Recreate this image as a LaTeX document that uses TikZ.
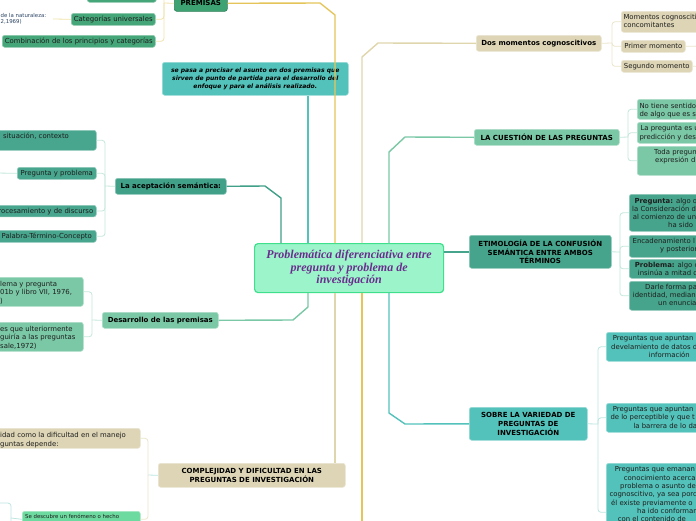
\documentclass[tikz,border=0pt]{standalone}
\usepackage{fontspec}
\setmainfont{DejaVu Sans}
\newfontfamily\titlefont{Liberation Serif}
\definecolor{premG}{HTML}{3DA372}
\definecolor{premD}{HTML}{2E7F57}
\definecolor{catG}{HTML}{45A679}
\definecolor{aceC}{HTML}{40A088}
\definecolor{aceK}{HTML}{47A68D}
\definecolor{desL}{HTML}{7AC8A6}
\definecolor{tealC}{HTML}{53C2BA}
\definecolor{tanF}{HTML}{DDD5B5}
\definecolor{mintC}{HTML}{6DDA9F}
\definecolor{cenF}{HTML}{9CF5CA}
\definecolor{cenD}{HTML}{3FE08C}
\definecolor{purp}{HTML}{6B2D8F}
\definecolor{goldC}{HTML}{E5C55A}
\definecolor{tanL}{HTML}{E0D6AE}
\definecolor{etimC}{HTML}{45A48B}
\definecolor{paleY}{HTML}{F0E3AC}
\definecolor{paleT}{HTML}{ECE5CC}
\definecolor{paleG}{HTML}{C6E8DC}
\definecolor{paleC}{HTML}{BDE6E2}
\definecolor{slate}{HTML}{2F4766}
\definecolor{txtc}{HTML}{1E1E1E}
\newcommand\fsN{\fontsize{6.9}{8.3}\selectfont}
\newcommand\fsB{\fontsize{7}{8.7}\selectfont\bfseries}
\newcommand\fsS{\fontsize{5.4}{6.6}\selectfont}
\newcommand\fsI{\fontsize{6.05}{8.3}\selectfont\bfseries\itshape}
\tikzset{
  bx/.style={rounded corners=2.5pt, inner sep=0pt, anchor=north west, fill=#1, draw=#1!60!white, line width=0.6pt, text=txtc},
  tx/.style={inner sep=0pt, anchor=base west, font=\fsN, text=txtc},
  ml/.style={inner sep=0pt, anchor=north west, font=\fsN, text=txtc, align=left},
  bt/.style={font=\fsB, align=center, text=black},
  mainln/.style={line width=1.4pt, line join=round},
  subln/.style={line width=0.8pt, rounded corners=3pt},
}
\begin{document}
\begin{tikzpicture}[x=1pt,y=-1pt]
\useasboundingbox (0,0) rectangle (696,520);
\clip (0,0) rectangle (696,520);
\fill[white] (0,0) rectangle (696,520);
% column coordinates
\coordinate (c281) at (281,0);
\coordinate (c308) at (308,0);
\coordinate (c335) at (335,0);
\coordinate (c362) at (362,0);
\coordinate (c389) at (389,0);
\coordinate (offb) at (362,530);
% ---------- central ----------
\node[bx=cenF, draw=cenD, line width=1.2pt, rounded corners=3.5pt, minimum width=189pt, minimum height=49pt,
  font=\titlefont\bfseries\itshape\fontsize{12}{12.3}\selectfont, text=purp, align=center] (cen) at (254,243)
  {Problemática diferenciativa entre\\pregunta y problema de\\investigación};
% ---------- left top ----------
\node[bx=premG, draw=premD, minimum width=53pt, minimum height=16pt, bt] (prem) at (174,-5) {PREMISAS};
\node[bx=catG, minimum width=69pt, minimum height=16pt] (topb) at (87,-14) {};
\node[bx=catG, minimum width=84pt, minimum height=12pt, font=\fsN] (cat) at (71,13) {Categorías universales};
\node[bx=catG, minimum width=153pt, minimum height=12pt, font=\fsN] (comb) at (2,35) {Combinación de los principios y categorías};
\node[ml, font=\fsS, text=slate] (nat) at (0.5,13) {de la naturaleza:\\2,1969)};
\coordinate (natj) at (53,19);
\node[bx=tealC, minimum width=186pt, minimum height=33pt, font=\fsI, align=center, text=black] (pasa) at (162,62)
  {se pasa a precisar el asunto en dos premisas que\\sirven de punto de partida para el desarrollo del\\enfoque y para el análisis realizado.};
% ---------- aceptacion ----------
\node[bx=aceC, minimum width=111pt, minimum height=16pt, bt] (ace) at (115,178) {La aceptación semántica:};
\node[bx=aceK, minimum width=156pt, minimum height=20pt] (ctx) at (-60,130) {};
\node[tx] (ctxt) at (3,138.5) {situación, contexto};
\node[bx=aceK, minimum width=79pt, minimum height=12pt, font=\fsN] (pp) at (17,167) {Pregunta y problema};
\coordinate (ppj) at (-5,173);
\node[bx=aceK, minimum width=156pt, minimum height=11.5pt] (proc) at (-60,205) {};
\node[tx, anchor=base east] (proct) at (93.5,213.2) {rocesamiento y de discurso};
\node[bx=aceK, minimum width=99pt, minimum height=12pt, font=\fsN] (pal) at (-3,230) {Palabra-Término-Concepto};
% ---------- desarrollo ----------
\node[bx=desL, minimum width=116pt, minimum height=16pt, bt] (des) at (102,312) {Desarrollo de las premisas};
\node[bx=desL, minimum width=143pt, minimum height=29pt] (dA) at (-60,277) {};
\node[ml, font=\fontsize{6.9}{8.7}\selectfont] (dAt) at (0,280.6) {lema y pregunta\\01b y libro VII, 1976,\\)};
\node[bx=desL, minimum width=143pt, minimum height=29pt] (dB) at (-60,322) {};
\node[ml, font=\fontsize{6.9}{8.5}\selectfont] (dBt) at (0,325.6) {es que ulteriormente\\guiría a las preguntas\\sale,1972)};
% ---------- complejidad ----------
\node[bx=tanF, minimum width=187pt, minimum height=24pt, bt] (com) at (158,463) {COMPLEJIDAD Y DIFICULTAD EN LAS\\PREGUNTAS DE INVESTIGACIÓN};
\node[bx=tanF, minimum width=200pt, minimum height=20pt] (cA) at (-60,428) {};
\node[ml] (cAt) at (0,432.3) {idad como la dificultad en el manejo\\guntas depende:};
\node[bx=mintC, minimum width=118pt, minimum height=16pt] (cB) at (22,511) {};
\node[tx, font=\fsS] (cBt) at (25,518.6) {Se descubre un fenómeno o hecho};
\coordinate (cbj1) at (11,518);
\coordinate (cbj2) at (11,503);
\coordinate (cbj3) at (-5,503);
\coordinate (cbj4) at (11,530);
% ---------- dos momentos ----------
\node[bx=tanF, minimum width=125pt, minimum height=16pt, bt] (dos) at (476,35) {Dos momentos cognoscitivos};
\node[bx=tanF, minimum width=100pt, minimum height=21pt] (M1) at (621,11) {};
\node[ml] (M1t) at (623.3,14) {Momentos cognosciti\\concomitantes};
\node[bx=tanF, minimum width=64pt, minimum height=12pt, font=\fsN] (M2) at (621,40) {Primer momento};
\node[bx=tanF, minimum width=71pt, minimum height=12pt, font=\fsN] (M3) at (621,60) {Segundo momento};
\coordinate (m2j) at (705,46);
\coordinate (m3j) at (705,66);
% ---------- cuestion ----------
\node[bx=desL, minimum width=145pt, minimum height=16pt, bt] (cue) at (474,129) {LA CUESTIÓN DE LAS PREGUNTAS};
\node[bx=desL, minimum width=100pt, minimum height=20pt] (Q1) at (637,99) {};
\node[ml] (Q1t) at (639.3,103) {No tiene sentido\\de algo que es s};
\node[bx=desL, minimum width=100pt, minimum height=21pt] (Q2) at (637,122) {};
\node[ml] (Q2t) at (639.3,125.6) {\hspace*{1pt}La pregunta es u\\predicción y des};
\node[bx=desL, minimum width=100pt, minimum height=29pt] (Q3) at (637,146) {};
\node[ml] (Q3t) at (654,149) {Toda pregun\\\hspace*{1pt}expresión d};
% ---------- etimologia ----------
\node[bx=etimC, minimum width=142pt, minimum height=33pt, bt] (etim) at (469,235) {ETIMOLOGÍA DE LA CONFUSIÓN\\SEMÁNTICA ENTRE AMBOS\\TÉRMINOS};
\node[bx=etimC, minimum width=100pt, minimum height=37pt] (E1) at (629,194) {};
\node[ml, font=\fontsize{6.9}{7.9}\selectfont] (E1t) at (632,198) {\hspace*{2.3pt}\textbf{Pregunta:} algo q\\la Consideración d\\\hspace*{0.7pt}al comienzo de un\\\hspace*{36pt}ha sido};
\node[bx=etimC, minimum width=100pt, minimum height=22pt] (E2) at (629,235) {};
\node[ml] (E2t) at (632.5,237.6) {Encadenamiento l\\\hspace*{27.5pt}y posterior};
\node[bx=etimC, minimum width=100pt, minimum height=19pt] (E3) at (629,259) {};
\node[ml, font=\fontsize{6.9}{8}\selectfont] (E3t) at (634.7,262.3) {\textbf{Problema:} algo c\\\hspace*{3pt}insinúa a mitad d};
\node[bx=etimC, minimum width=100pt, minimum height=29pt] (E4) at (629,281) {};
\node[ml, font=\fontsize{6.9}{7.8}\selectfont] (E4t) at (632.7,284) {\hspace*{12.3pt}Darle forma pa\\identidad, median\\\hspace*{25.3pt}un enuncia};
% ---------- sobre la variedad ----------
\node[bx=tealC, minimum width=118pt, minimum height=33pt, bt] (sob) at (469,407) {SOBRE LA VARIEDAD DE\\PREGUNTAS DE\\INVESTIGACIÓN};
\node[bx=tealC, minimum width=100pt, minimum height=29pt] (S1) at (606,332) {};
\node[ml] (S1t) at (611,335.6) {\hspace*{1.7pt}Preguntas que apuntan\\develamiento de datos d\\\hspace*{37.7pt}información};
\node[bx=tealC, minimum width=100pt, minimum height=29pt] (S2) at (606,403) {};
\node[ml] (S2t) at (610.3,406.3) {\hspace*{2.4pt}Preguntas que apuntan\\de lo perceptible y que t\\\hspace*{23pt}la barrera de lo da};
\node[bx=tealC, minimum width=100pt, minimum height=98pt] (S3) at (606,463) {};
\node[ml] (S3t) at (609.3,466.6) {\hspace*{5.4pt}Preguntas que emanan\\\hspace*{14.4pt}conocimiento acerca\\\hspace*{10.7pt}problema o asunto de\\cognoscitivo, ya sea porq\\\hspace*{1.7pt}él existe previamente o\\\hspace*{27.7pt}ha ido conforman\\\hspace*{8.4pt}con el contenido de};
% ---------- main connectors ----------
\draw[mainln, goldC] (prem.east) -- (320,3) -- (335,15) -- (cen.north -| c335);
\draw[mainln, aceC] (ace.east) -- (265,186) -- (281,198) -- (cen.north -| c281);
\draw[mainln, tealC] (pasa.south -| c308) -- (cen.north -| c308);
\draw[mainln, tanL] (cen.north -| c362) -- (362,57) -- (378,43) -- (dos.west);
\draw[mainln, desL] (cen.north -| c389) -- (389,152) -- (405,137) -- (cue.west);
\draw[mainln, etimC] (cen.east |- etim.west) -- (etim.west);
\draw[mainln, desL] (des.east) -- (293,320) -- (308,307) -- (cen.south -| c308);
\draw[mainln, tanL] (cen.south -| c335) -- (com.north -| c335);
\draw[mainln, goldC] (cen.south -| c362) -- (offb);
\draw[mainln, tealC] (cen.south -| c389) -- (389,413) -- (405,424) -- (sob.west);
% ---------- child connectors ----------
\draw[subln, paleY] (prem.west) -- (164,3);
\draw[subln, paleY] (164,3) |- (cat.east);
\draw[subln, paleY] (164,3) |- (comb.east);
\draw[subln, paleY] (164,3) |- (topb.east);
\draw[subln, paleY] (cat.west) -- (natj);
\draw[subln, paleG] (ace.west) -- (105,186);
\draw[subln, paleG] (105,186) |- (ctx.east);
\draw[subln, paleG] (105,186) |- (pp.east);
\draw[subln, paleG] (105,186) |- (proc.east);
\draw[subln, paleG] (105,186) |- (pal.east);
\draw[subln, paleG] (pp.west) -- (ppj);
\draw[subln, paleG] (des.west) -- (92,320);
\draw[subln, paleG] (92,320) |- (dA.east);
\draw[subln, paleG] (92,320) |- (dB.east);
\draw[subln, paleC] (com.west) -- (148,475);
\draw[subln, paleT] (148,475) |- (cA.east);
\draw[subln, paleT] (148,475) |- (cB.east);
\draw[subln, paleC] (cB.west) -- (cbj1);
\draw[subln, paleC] (cbj4) -- (cbj2) -- (cbj3);
\draw[subln, paleT] (dos.east) -- (612,43);
\draw[subln, paleT] (612,43) |- (M1.west);
\draw[subln, paleT] (612,43) |- (M2.west);
\draw[subln, paleT] (612,43) |- (M3.west);
\draw[subln, paleT] (M2.east) -- (m2j);
\draw[subln, paleT] (M3.east) -- (m3j);
\draw[subln, paleG] (cue.east) -- (628,137);
\draw[subln, paleG] (628,137) |- (Q1.west);
\draw[subln, paleG] (628,137) |- (Q2.west);
\draw[subln, paleG] (628,137) |- (Q3.west);
\draw[subln, paleG] (etim.east) -- (620,252);
\draw[subln, paleG] (620,252) |- (E1.west);
\draw[subln, paleG] (620,252) |- (E2.west);
\draw[subln, paleG] (620,252) |- (E3.west);
\draw[subln, paleG] (620,252) |- (E4.west);
\draw[subln, paleC] (sob.east) -- (598,424);
\draw[subln, paleC] (598,424) |- (S1.west);
\draw[subln, paleC] (598,424) |- (S2.west);
\draw[subln, paleC] (598,424) |- (S3.west);
\end{tikzpicture}
\end{document}
